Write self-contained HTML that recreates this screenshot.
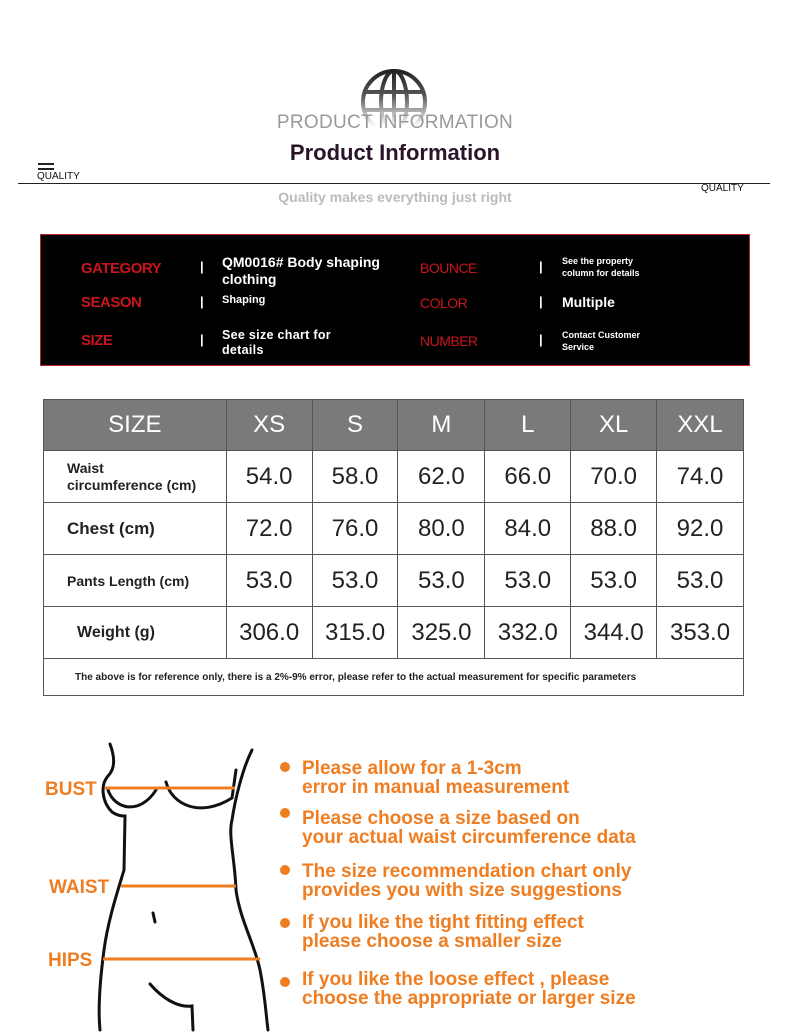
<!DOCTYPE html>
<html><head><meta charset="utf-8"><style>
body{margin:0;width:790px;height:1036px;background:#fff;position:relative;overflow:hidden;font-family:"Liberation Sans",sans-serif}
.a{position:absolute}
.red{color:#c8161d;font-weight:bold;letter-spacing:-0.5px}
.w{color:#fff;font-weight:bold}
table{position:absolute;left:43px;top:399px;border-collapse:collapse;width:701px}
td{border:1px solid #555;text-align:center;font-size:24px;color:#222;padding:0}
tr.h td{background:#7b7a79;color:#fff;height:50px;font-size:24px}
tr.r td{height:51px}
td.f{text-align:left;font-size:15px;font-weight:bold;padding-left:23px;color:#222}
.o{color:#ef7d22;font-weight:bold;font-size:19px;line-height:19px}
.dot{position:absolute;width:10px;height:10px;border-radius:50%;background:#ef7d22}
</style></head><body>
<svg class="a" style="left:358px;top:68px" width="72" height="60" viewBox="0 0 72 60">
<defs><linearGradient id="g" gradientUnits="userSpaceOnUse" x1="0" y1="2" x2="0" y2="58"><stop offset="0" stop-color="#222"/><stop offset="0.45" stop-color="#555"/><stop offset="1" stop-color="#fff"/></linearGradient></defs>
<g fill="none" stroke="url(#g)" stroke-width="4"><circle cx="36" cy="34" r="31"/><ellipse cx="36" cy="34" rx="13" ry="31"/><line x1="36" y1="3" x2="36" y2="65"/><line x1="6" y1="24" x2="66" y2="24"/><line x1="5" y1="42" x2="67" y2="42"/></g></svg>
<div class="a" style="left:0;width:790px;top:112px;text-align:center;font-size:19px;color:#999;letter-spacing:0.3px">PRODUCT INFORMATION</div>
<div class="a" style="left:0;width:790px;top:140px;text-align:center;font-size:22px;font-weight:bold;color:#2a1428">Product Information</div>
<div class="a" style="left:38px;top:163px;width:16px;height:2px;background:#222"></div>
<div class="a" style="left:38px;top:168px;width:16px;height:2px;background:#222"></div>
<div class="a" style="left:37px;top:171px;font-size:10px;color:#111">QUALITY</div>
<div class="a" style="left:18px;top:183px;width:752px;height:1px;background:#222"></div>
<div class="a" style="left:701px;top:183px;font-size:10px;color:#111">QUALITY</div>
<div class="a" style="left:0;width:790px;top:189px;text-align:center;font-size:14px;font-weight:bold;color:#bbb">Quality makes everything just right</div>

<div class="a" style="left:40px;top:234px;width:708px;height:130px;background:#000;border:1px solid #b3262a"></div>
<div class="a red" style="left:81px;top:260px;font-size:15px">GATEGORY</div>
<div class="a red" style="left:81px;top:294px;font-size:15px">SEASON</div>
<div class="a red" style="left:81px;top:332px;font-size:15px">SIZE</div>
<div class="a w" style="left:200px;top:259px;font-size:13px">|</div>
<div class="a w" style="left:200px;top:294px;font-size:13px">|</div>
<div class="a w" style="left:200px;top:332px;font-size:13px">|</div>
<div class="a w" style="left:222px;top:254px;font-size:14px;line-height:17px;width:180px">QM0016# Body shaping clothing</div>
<div class="a w" style="left:222px;top:294px;font-size:11px">Shaping</div>
<div class="a w" style="left:222px;top:328px;font-size:12.5px;line-height:15px;width:130px;letter-spacing:0.3px">See size chart for details</div>
<div class="a red" style="left:420px;top:260px;font-size:14px;font-weight:normal">BOUNCE</div>
<div class="a red" style="left:420px;top:295px;font-size:14px;font-weight:normal">COLOR</div>
<div class="a red" style="left:420px;top:333px;font-size:14px;font-weight:normal">NUMBER</div>
<div class="a w" style="left:539px;top:259px;font-size:13px">|</div>
<div class="a w" style="left:539px;top:294px;font-size:13px">|</div>
<div class="a w" style="left:539px;top:332px;font-size:13px">|</div>
<div class="a w" style="left:562px;top:255px;font-size:9px;line-height:12px">See the property<br>column for details</div>
<div class="a w" style="left:562px;top:294px;font-size:14px">Multiple</div>
<div class="a w" style="left:562px;top:329px;font-size:9px;line-height:12px">Contact Customer<br>Service</div>

<table>
<colgroup><col style="width:183px"><col style="width:86px"><col style="width:86px"><col style="width:87px"><col style="width:86px"><col style="width:86px"><col style="width:87px"></colgroup>
<tr class="h"><td>SIZE</td><td>XS</td><td>S</td><td>M</td><td>L</td><td>XL</td><td>XXL</td></tr>
<tr class="r"><td class="f" style="font-size:14px;line-height:17px">Waist<br>circumference (cm)</td><td>54.0</td><td>58.0</td><td>62.0</td><td>66.0</td><td>70.0</td><td>74.0</td></tr>
<tr class="r"><td class="f" style="font-size:17px">Chest (cm)</td><td>72.0</td><td>76.0</td><td>80.0</td><td>84.0</td><td>88.0</td><td>92.0</td></tr>
<tr class="r"><td class="f" style="font-size:14px">Pants Length (cm)</td><td>53.0</td><td>53.0</td><td>53.0</td><td>53.0</td><td>53.0</td><td>53.0</td></tr>
<tr class="r"><td class="f" style="font-size:16px;padding-left:33px">Weight (g)</td><td>306.0</td><td>315.0</td><td>325.0</td><td>332.0</td><td>344.0</td><td>353.0</td></tr>
<tr><td colspan="7" style="height:36px;font-size:10px;font-weight:bold;text-align:left;padding-left:31px">The above is for reference only, there is a 2%-9% error, please refer to the actual measurement for specific parameters</td></tr>
</table>

<svg class="a" style="left:0;top:730px" width="300" height="306" viewBox="0 0 300 306">
<g fill="none" stroke="#111" stroke-width="3" stroke-linecap="round">
<path d="M110 14 C116 30 114 40 108 46 C100 55 102 72 112 82 C118 86 122 86 125 86 L124 140 C118 160 108 190 104 220 C100 250 98 280 100 300"/>
<path d="M108 60 C115 80 140 85 156 60"/>
<path d="M166 52 C172 75 200 88 232 68 L236 40"/>
<path d="M252 20 C242 40 235 70 232 90 C228 105 235 130 236 160 C240 190 255 215 260 240 C265 265 266 285 268 300"/>
<path d="M150 254 C162 268 178 278 192 276 L193 300"/>
<path d="M153 183 L155 192"/>
</g>
<g stroke="#ef7d22" stroke-width="3"><line x1="105" y1="58" x2="235" y2="58"/><line x1="121" y1="156" x2="236" y2="156"/><line x1="103" y1="229" x2="260" y2="229"/></g>
<g fill="#ef7d22" font-family="Liberation Sans,sans-serif" font-weight="bold" font-size="19"><text x="45" y="65">BUST</text><text x="49" y="163">WAIST</text><text x="48" y="236">HIPS</text></g>
</svg>
<div class="dot" style="left:280px;top:762px"></div>
<div class="dot" style="left:280px;top:808px"></div>
<div class="dot" style="left:280px;top:865px"></div>
<div class="dot" style="left:280px;top:918px"></div>
<div class="dot" style="left:280px;top:977px"></div>
<div class="a o" style="left:302px;top:759px">Please allow for a 1-3cm<br>error in manual measurement</div>
<div class="a o" style="left:302px;top:809px">Please choose a size based on<br>your actual waist circumference data</div>
<div class="a o" style="left:302px;top:862px">The size recommendation chart only<br>provides you with size suggestions</div>
<div class="a o" style="left:302px;top:913px">If you like the tight fitting effect<br>please choose a smaller size</div>
<div class="a o" style="left:302px;top:970px">If you like the loose effect , please<br>choose the appropriate or larger size</div>
</body></html>
